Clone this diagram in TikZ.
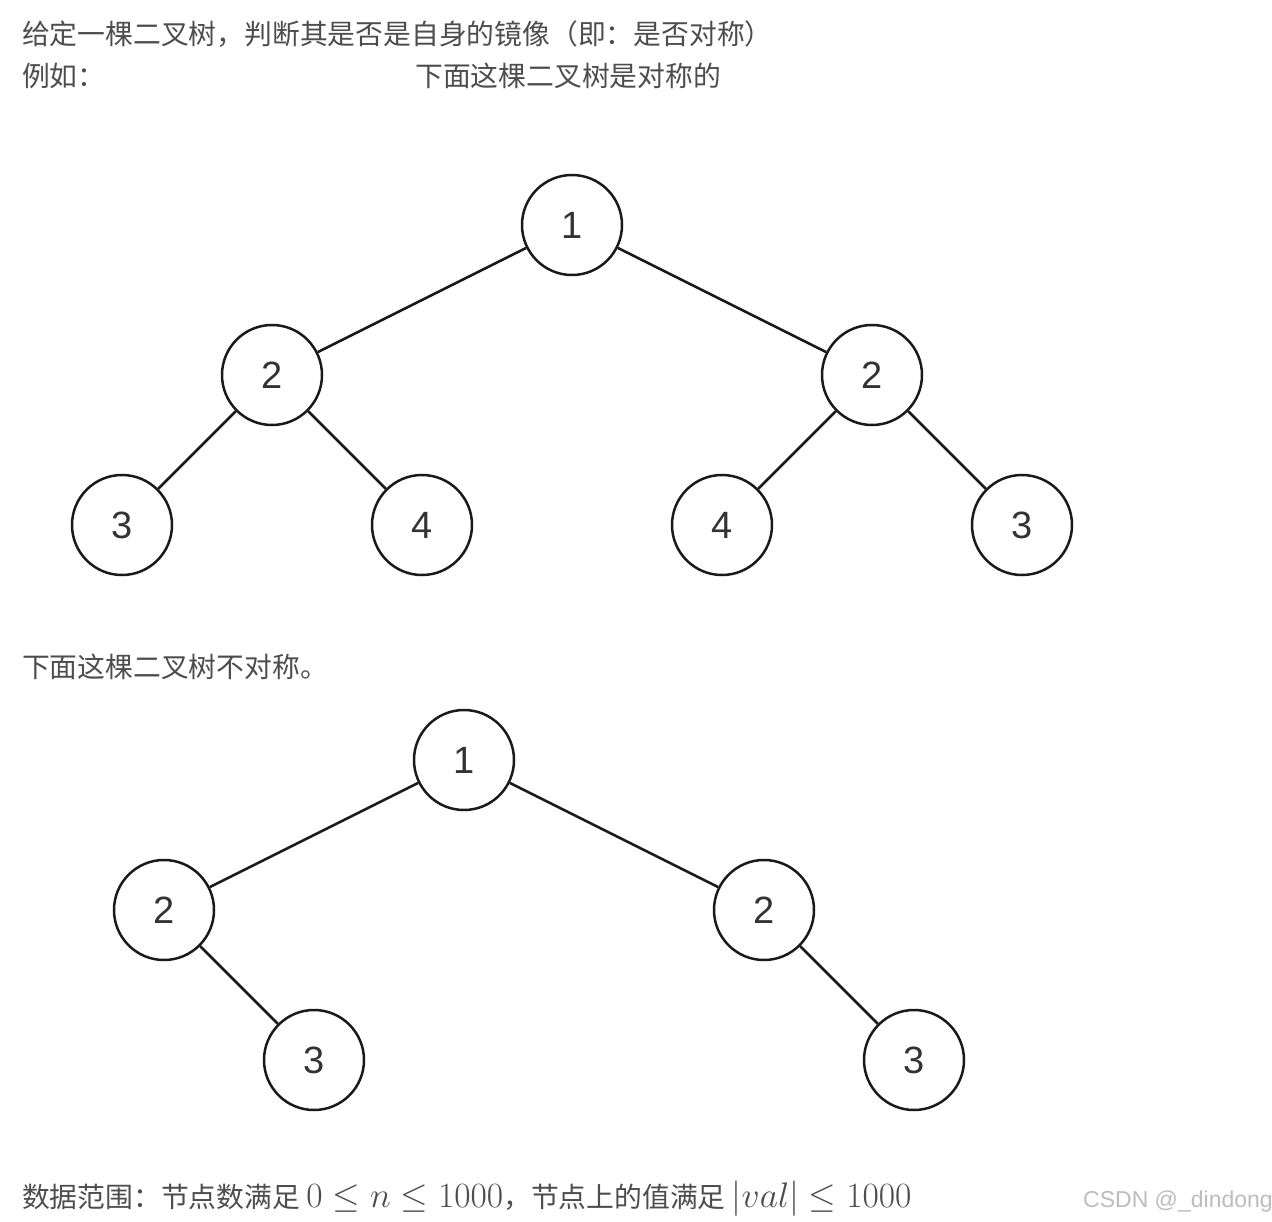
\RequirePackage{fix-cm}
\documentclass[tikz,border=0pt]{standalone}
\usepackage{fontspec}
\setsansfont{Liberation Sans}
\newfontfamily\cjk{Noto Sans CJK SC}
\definecolor{txt}{HTML}{4D4D4D}
\definecolor{edge}{HTML}{1A1A1A}
\definecolor{digit}{HTML}{333333}
\definecolor{wm}{HTML}{BDBDBD}
\newcommand\mathsz{\fontsize{35.5}{38}\selectfont}
\newcommand\cjksz{\fontsize{27.8}{32}\selectfont}
\tikzset{
  tn/.style={circle, draw=edge, line width=2.5pt, minimum size=100pt, inner sep=0pt, fill=white,
             text=digit, font=\sffamily\fontsize{38}{40}\selectfont},
  te/.style={draw=edge, line width=2.5pt},
  tx/.style={anchor=base west, inner sep=0pt, text=txt, font=\cjk\cjksz},
}
\begin{document}
\begin{tikzpicture}[x=1pt,y=-1pt]
\useasboundingbox[fill=white] (0,0) rectangle (1272,1222);
% texts
\node[tx] (t1) at (22,45) {给定一棵二叉树，判断其是否是自身的镜像（即：是否对称）};
\node[tx] (t2) at (22,87) {例如：};
\node[tx] (t3) at (415,87) {下面这棵二叉树是对称的};
\node[tx] (t4) at (22,677) {下面这棵二叉树不对称。};
\node[tx] (t5) at (22,1207) {数据范围：节点数满足 {\mathsz$0\le n\le 1000$}，节点上的值满足 {\mathsz$|val|\le 1000$}};
\node[anchor=base west, inner sep=0pt, text=wm, font=\sffamily\fontsize{23}{26}\selectfont] (wm) at (1083,1207) {CSDN @\_dindong};
% tree 1
\node[tn] (a1) at (572,225) {1};
\node[tn] (a2) at (272,375) {2};
\node[tn] (a3) at (872,375) {2};
\node[tn] (a4) at (122,525) {3};
\node[tn] (a5) at (422,525) {4};
\node[tn] (a6) at (722,525) {4};
\node[tn] (a7) at (1022,525) {3};
\draw[te] (a1) -- (a2);
\draw[te] (a1) -- (a3);
\draw[te] (a2) -- (a4);
\draw[te] (a2) -- (a5);
\draw[te] (a3) -- (a6);
\draw[te] (a3) -- (a7);
% tree 2
\node[tn] (b1) at (464,760) {1};
\node[tn] (b2) at (164,910) {2};
\node[tn] (b3) at (764,910) {2};
\node[tn] (b4) at (314,1060) {3};
\node[tn] (b5) at (914,1060) {3};
\draw[te] (b1) -- (b2);
\draw[te] (b1) -- (b3);
\draw[te] (b2) -- (b4);
\draw[te] (b3) -- (b5);
\end{tikzpicture}
\end{document}
